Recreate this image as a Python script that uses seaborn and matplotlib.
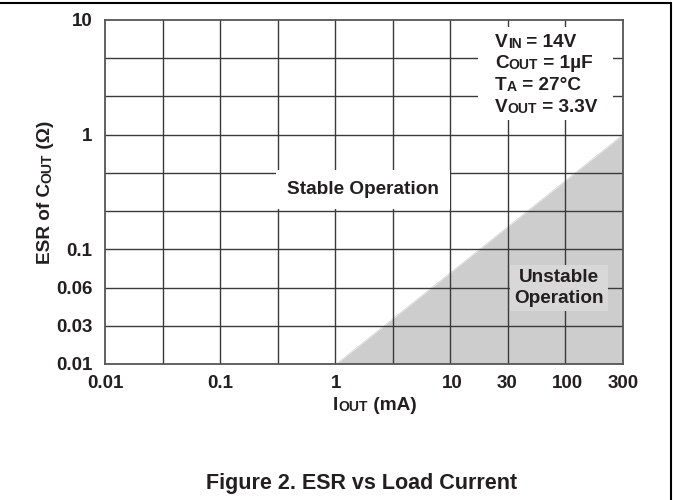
import numpy as np
import matplotlib
matplotlib.use("Agg")
import matplotlib.pyplot as plt
from matplotlib.lines import Line2D
from matplotlib.patches import Rectangle
import seaborn as sns

# ---- data ----
x_tick_values = [0.01, 0.1, 1, 10, 30, 100, 300]
x_tick_labels = ["0.01", "0.1", "1", "10", "30", "100", "300"]
y_tick_labels = ["0.01", "0.03", "0.06", "0.1", "", "", "1", "", "", "10"]
unstable_x = [1, 300]
unstable_y = [0.01, 1]
conditions = [
    [("V", "b"), ("IN", "s"), (" = 14V", "b")],
    [("C", "b"), ("OUT", "s"), (" = 1µF", "b")],
    [("T", "b"), ("A", "s"), (" = 27°C", "b")],
    [("V", "b"), ("OUT", "s"), (" = 3.3V", "b")],
]
xlabel_parts = [("I", "b"), ("OUT", "s"), (" (mA)", "b")]
ylabel_parts = [("ESR of C", "b"), ("OUT", "s"), (" (Ω)", "b")]
caption = "Figure 2. ESR vs Load Current"

sns.set_theme(style="white")
plt.rcParams["font.family"] = ["Liberation Sans", "DejaVu Sans"]
plt.rcParams["font.weight"] = "bold"

BIG = 13.7
SMALL = 10
TICK = 13.5
TXT = "#231f20"

fig = plt.figure(figsize=(6.73, 5.0), dpi=100)
ax = fig.add_axes([105 / 673, 1 - 364 / 500, 518 / 673, 344 / 500])

xmin, xmax = 0.01, 300
ymin, ymax = 0.01, 10
ax.set_xscale("log")
ax.set_yscale("log")
ax.set_xlim(xmin, xmax)
ax.set_ylim(ymin, ymax)

# grid: evenly spaced lines on the log axes
xgrid = np.logspace(np.log10(xmin), np.log10(xmax), 10)
ygrid = np.logspace(np.log10(ymin), np.log10(ymax), 10)
for gx in xgrid[1:-1]:
    ax.axvline(gx, color="#3a3a3a", lw=1.0, zorder=2)
for gy in ygrid[1:-1]:
    ax.axhline(gy, color="#3a3a3a", lw=1.0, zorder=2)

# unstable region
ax.fill_between(unstable_x, ymin, unstable_y, color="#cdcdcd", lw=0, zorder=1)
sns.lineplot(x=unstable_x, y=unstable_y, ax=ax, color="#cdcdcd", lw=0.5, zorder=1)

ax.minorticks_off()
ax.set_xticks(x_tick_values)
ax.set_xticklabels(x_tick_labels)
ax.set_yticks(ygrid)
ax.set_yticklabels(y_tick_labels)
ax.tick_params(axis="both", length=0, labelsize=TICK, colors=TXT)
ax.tick_params(axis="x", pad=8)
ax.tick_params(axis="y", pad=9)
for lab in ax.get_xticklabels() + ax.get_yticklabels():
    lab.set_fontweight("bold")
for sp in ax.spines.values():
    sp.set_visible(True)
    sp.set_color("#555555")
    sp.set_linewidth(1.3)
    sp.set_zorder(5)


def chain_text(x, y, parts, transform, rotation=0):
    last = None
    for txt, kind in parts:
        size = BIG if kind == "b" else SMALL
        if last is None:
            if rotation == 0:
                last = ax.text(x, y, txt, transform=transform, fontsize=size,
                               fontweight="bold", color=TXT, ha="left", va="bottom",
                               zorder=7, clip_on=False)
            else:
                last = ax.text(x, y, txt, transform=transform, fontsize=size,
                               fontweight="bold", color=TXT, ha="right", va="bottom",
                               rotation=90, zorder=7, clip_on=False)
        else:
            if rotation == 0:
                last = ax.annotate(txt, xy=(1, 0), xycoords=last, fontsize=size,
                                   fontweight="bold", color=TXT, ha="left", va="bottom",
                                   annotation_clip=False, zorder=7)
            else:
                last = ax.annotate(txt, xy=(1, 1), xycoords=last, fontsize=size,
                                   fontweight="bold", color=TXT, ha="right", va="bottom",
                                   rotation=90, annotation_clip=False, zorder=7)
    return last


# conditions box
ax.add_patch(Rectangle((0.720, 0.709), 0.261, 0.271, transform=ax.transAxes,
                       facecolor="white", edgecolor="none", zorder=4))
line_bottoms = [0.910, 0.848, 0.785, 0.722]
for parts, yb in zip(conditions, line_bottoms):
    chain_text(0.753, yb, parts, ax.transAxes)

# Stable label
ax.text(0.498, 0.506, "Stable Operation", transform=ax.transAxes, fontsize=BIG,
        fontweight="bold", color=TXT, ha="center", va="center", zorder=7,
        bbox=dict(facecolor="white", edgecolor="none", pad=8))

# Unstable label
ax.text(0.876, 0.221, "Unstable\nOperation", transform=ax.transAxes, fontsize=BIG,
        fontweight="bold", color=TXT, ha="center", va="center", zorder=7,
        linespacing=1.25,
        bbox=dict(facecolor="#d8d8d8", edgecolor="none", pad=3))

# axis labels
chain_text((333 - 105) / 518, (364 - 414) / 344, xlabel_parts, ax.transAxes)
chain_text((54 - 105) / 518, (364 - 264) / 344, ylabel_parts, ax.transAxes, rotation=90)

# caption
fig.text(362 / 673, 1 - 483 / 500, caption, fontsize=15.5, fontweight="bold",
         color=TXT, ha="center", va="center")

# figure border (top and right)
fig.add_artist(Line2D([0, 671 / 673], [1 - 3 / 500, 1 - 3 / 500],
                      transform=fig.transFigure, color="black", lw=1.5))
fig.add_artist(Line2D([671 / 673, 671 / 673], [0, 1 - 3 / 500],
                      transform=fig.transFigure, color="black", lw=1.5))

fig.savefig("out.png", dpi=100)
